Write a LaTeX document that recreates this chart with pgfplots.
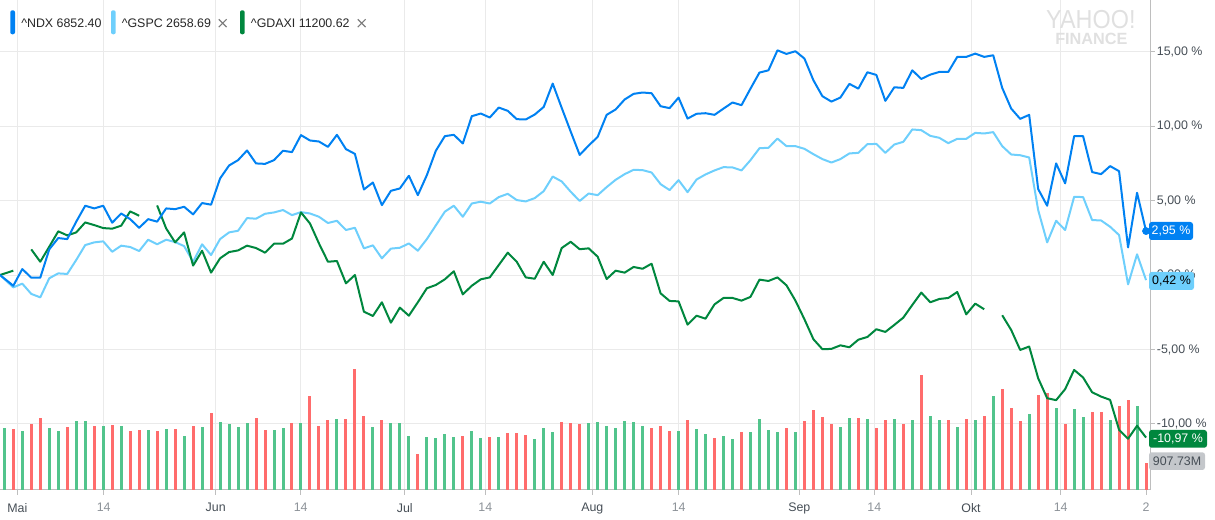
\documentclass[border=0pt]{standalone}
\usepackage{pgfplots}
\pgfplotsset{compat=1.18}
\usepackage{pgfplotstable}
\usepackage{fontspec}
\setmainfont{Liberation Sans}
\definecolor{ndx}{RGB}{0,129,242}
\definecolor{gspc}{RGB}{110,207,252}
\definecolor{dax}{RGB}{0,135,62}
\definecolor{volg}{RGB}{82,196,140}
\definecolor{volr}{RGB}{255,108,108}
\definecolor{gridc}{RGB}{234,234,234}
\definecolor{axisc}{RGB}{190,190,190}
\definecolor{labc}{RGB}{70,78,86}
\definecolor{numc}{RGB}{140,146,152}
\definecolor{txtc}{RGB}{38,38,38}
\definecolor{xc}{RGB}{125,125,125}
\definecolor{wm}{RGB}{224,224,224}
\definecolor{volbox}{RGB}{196,199,203}

\pgfplotstableread{
k ndx gspc dax
-0.48 0.00 0.00 0.00
1 -0.72 -0.83 0.29
2 0.40 -0.58 nan
3 -0.18 -1.27 1.72
4 -0.18 -1.50 0.89
5 1.72 -0.22 1.90
6 2.48 0.11 2.93
7 2.41 0.07 2.66
8 3.58 1.01 2.86
9 4.65 2.01 3.53
10 4.47 2.19 3.35
11 4.65 2.26 3.15
12 3.51 1.56 3.11
13 4.13 1.97 3.31
14 3.75 1.88 4.27
15 3.17 1.61 3.98
16 3.75 2.37 nan
17 3.58 2.06 4.67
18 4.47 2.37 3.13
19 4.42 2.21 2.19
20 4.58 1.94 2.86
21 4.07 0.89 0.63
22 4.83 2.06 1.63
23 4.72 1.34 0.16
24 6.48 2.41 1.12
25 7.35 2.86 1.54
26 7.71 2.97 1.65
27 8.36 3.82 1.97
28 7.49 3.78 1.81
29 7.46 4.11 1.50
30 7.71 4.20 2.10
31 8.34 4.36 2.10
32 8.25 4.02 2.45
33 9.39 4.22 4.20
34 9.03 4.13 3.46
35 8.96 3.91 2.12
36 8.60 3.49 0.89
37 9.41 3.64 0.94
38 8.45 3.02 -0.56
39 8.13 3.17 0.00
40 5.74 1.79 -2.46
41 6.21 1.99 -2.75
42 4.69 1.12 -1.83
43 5.65 1.77 -3.20
44 5.81 1.83 -2.19
45 6.66 2.12 -2.73
46 5.36 1.63 -1.83
47 6.70 2.41 -0.89
48 8.34 3.33 -0.67
49 9.32 4.25 -0.29
50 9.41 4.65 0.25
51 8.83 3.91 -1.30
52 10.66 4.80 -0.72
53 10.84 4.92 -0.29
54 10.57 4.80 -0.16
55 11.24 5.23 0.67
56 11.02 5.45 1.50
57 10.46 5.03 0.89
58 10.44 4.94 -0.16
59 10.77 5.16 -0.25
60 11.28 5.63 0.89
61 12.85 6.61 0.00
62 11.22 6.28 1.81
63 9.63 5.59 2.23
64 8.06 4.97 1.73
65 8.69 5.47 1.79
66 9.27 5.36 1.23
67 10.75 5.90 -0.27
68 11.11 6.39 0.29
69 11.78 6.77 0.16
70 12.16 7.06 0.54
71 12.25 7.04 0.42
72 12.20 6.88 0.76
73 11.33 6.10 -1.23
74 11.20 5.70 -1.74
75 11.91 6.37 -1.77
76 10.50 5.56 -3.33
77 10.82 6.41 -2.73
78 10.86 6.75 -2.93
79 10.75 7.02 -1.97
80 11.17 7.24 -1.54
81 11.58 7.22 -1.54
82 11.40 7.02 -1.72
83 12.51 7.71 -1.47
84 13.59 8.51 -0.31
85 13.74 8.54 -0.40
86 15.08 9.16 -0.16
87 14.84 8.65 -0.69
88 15.02 8.65 -1.72
89 14.53 8.47 -2.97
90 13.07 8.11 -4.31
91 12.00 7.78 -4.98
92 11.64 7.55 -4.96
93 11.91 7.78 -4.72
94 12.83 8.16 -4.85
95 12.51 8.20 -4.34
96 13.61 8.78 -4.16
97 13.43 8.80 -3.64
98 11.69 8.20 -3.82
99 12.60 8.76 -3.35
100 12.56 8.94 -2.86
101 13.74 9.77 -2.01
102 13.16 9.72 -1.18
103 13.45 9.34 -1.83
104 13.63 9.21 -1.61
105 13.63 8.85 -1.54
106 14.64 9.14 -1.14
107 14.64 9.14 -2.64
108 14.86 9.54 -1.92
109 14.64 9.50 -2.30
110 14.75 9.59 nan
111 12.56 8.65 -2.70
112 11.17 8.09 -3.69
113 10.48 8.04 -5.03
114 10.75 7.89 -4.80
115 5.77 4.36 -6.93
116 4.65 2.19 -8.27
117 7.49 3.64 -8.40
118 6.15 3.02 -7.66
119 9.32 5.25 -6.37
120 9.32 5.23 -6.88
121 6.91 3.69 -7.87
122 6.77 3.66 -8.16
123 7.31 3.24 -8.38
124 6.97 2.68 -10.39
125 1.85 -0.63 -10.99
126 5.52 1.39 -10.12
127 2.95 -0.34 -10.91
}\lines

\begin{document}
\begin{tikzpicture}[font=\fontsize{9.3}{11}\selectfont]
\path[use as bounding box] (0pt,0pt) rectangle (911.25pt,390pt);
\pgfplotsset{base/.style={scale only axis, width=862.5pt, height=367.5pt,
  xmin=-0.48, xmax=127.44, at={(0pt,22.5pt)}, anchor=south west}}
% frame, grid and ticks
\begin{axis}[base, ymin=-14.43, ymax=18.46,
  axis x line*=bottom, axis y line*=right,
  axis line style={axisc, line width=0.75pt},
  xtick={1.45,11.06,23.51,32.97,44.54,53.50,65.41,75.02,88.43,96.77,107.53,117.51},
  xticklabels={Mai,{\color{numc}14},Jun,{\color{numc}14},Jul,{\color{numc}14},Aug,{\color{numc}14},Sep,{\color{numc}14},Okt,{\color{numc}14}},
  extra x ticks={127},
  extra x tick labels={{\color{numc}2}},
  extra x tick style={grid=none},
  ytick={-10,-5,0,5,10,15},
  yticklabels={{-10,00 \%},{-5,00 \%},{0,00 \%},{5,00 \%},{10,00 \%},{15,00 \%}},
  tick style={axisc, line width=0.75pt},
  tick align=outside, major tick length=3.5pt,
  xmajorgrids, ymajorgrids,
  grid style={gridc, line width=0.75pt},
  xticklabel style={text=labc, inner sep=0pt, anchor=north, yshift=-6.3pt},
  yticklabel style={text=labc, inner sep=0pt, anchor=west, xshift=1.5pt},
]
\addplot[draw=none] coordinates {(0,0)};
\end{axis}
% volume
\begin{axis}[base, hide axis, ymin=0, ymax=490]
\addplot[ycomb, no marks, volg, line width=2.25pt] coordinates {(0,62)(2,59)(5,62)(6,59)(8,69)(9,69)(11,64)(13,64)(16,60)(18,61)(20,54)(22,63)(24,68)(25,66)(26,63)(27,67)(30,60)(31,62)(33,67)(37,71)(41,63)(43,67)(44,67)(45,54)(47,53)(48,52)(49,56)(50,53)(52,59)(53,52)(55,53)(59,51)(60,62)(61,58)(65,67)(66,68)(67,64)(68,62)(69,69)(70,68)(71,64)(75,59)(77,61)(78,56)(80,54)(81,51)(83,58)(84,71)(85,60)(86,58)(88,58)(93,63)(94,72)(96,71)(99,71)(101,70)(103,74)(104,70)(106,63)(108,70)(110,94)(114,76)(117,82)(119,81)(120,73)(123,70)(126,84)};
\addplot[ycomb, no marks, volr, line width=2.25pt] coordinates {(1,61)(3,66)(4,72)(7,63)(10,64)(12,65)(14,59)(15,60)(17,59)(19,61)(21,64)(23,77)(28,72)(29,60)(32,67)(34,94)(35,64)(36,70)(38,71)(39,121)(40,74)(42,70)(46,36)(51,54)(54,53)(56,57)(57,57)(58,55)(62,68)(63,67)(64,66)(72,62)(73,64)(74,59)(76,70)(79,52)(82,58)(87,62)(89,69)(90,80)(91,73)(92,66)(95,72)(97,62)(98,70)(100,66)(102,115)(105,70)(107,71)(109,74)(111,101)(112,82)(113,69)(115,95)(116,97)(118,66)(121,78)(122,78)(124,84)(125,90)(127,27)};
\end{axis}
% lines
\begin{axis}[base, hide axis, ymin=-14.43, ymax=18.46, unbounded coords=jump]
\addplot[gspc, line width=1.5pt, no marks, line join=round] table[x=k,y=gspc]{\lines};
\addplot[dax, line width=1.5pt, no marks, line join=round] table[x=k,y=dax]{\lines};
\addplot[ndx, line width=1.5pt, no marks, line join=round] table[x=k,y=ndx]{\lines};
\addplot[only marks, mark=*, mark size=2.7pt, ndx] coordinates {(127,2.95)};
\end{axis}
% annotations in pixel units (y measured from bottom)
\begin{scope}[x=0.75pt,y=0.75pt]
% watermark
\node[anchor=base west, inner sep=0pt, text=wm, xscale=0.9] at (1046,491.7) {\fontsize{19.5}{20}\selectfont YAHOO!};
\node[anchor=base west, inner sep=0pt, text=wm] at (1055,475) {\fontsize{12.2}{13}\selectfont\bfseries FINANCE};
% legend
\fill[ndx, rounded corners=1.5] (10.3,485.7) rectangle (15,509.7);
\node[anchor=base west, inner sep=0pt, text=txtc] at (21,492.7) {\textasciicircum NDX 6852.40};
\fill[gspc, rounded corners=1.5] (111,485.7) rectangle (115.7,509.7);
\node[anchor=base west, inner sep=0pt, text=txtc] at (121.5,492.7) {\textasciicircum GSPC 2658.69};
\draw[xc, line width=0.9pt] (218.8,500.7) -- (226.6,492.9) (218.8,492.9) -- (226.6,500.7);
\fill[dax, rounded corners=1.5] (240,485.7) rectangle (244.7,509.7);
\node[anchor=base west, inner sep=0pt, text=txtc] at (250.7,492.7) {\textasciicircum GDAXI 11200.62};
\draw[xc, line width=0.9pt] (357.8,500.7) -- (365.6,492.9) (357.8,492.9) -- (365.6,500.7);
% value boxes
\fill[ndx, rounded corners=2] (1149,280) rectangle (1193,298);
\node[text=white, inner sep=0pt] at (1171,289) {2,95 \%};
\fill[gspc, rounded corners=2] (1149,230) rectangle (1194,248);
\node[text=black, inner sep=0pt] at (1171.5,239) {0,42 \%};
\fill[dax, rounded corners=2] (1149,72.3) rectangle (1207,90);
\node[text=white, inner sep=0pt] at (1178,81.2) {-10,97 \%};
\fill[volbox, rounded corners=2] (1149,50) rectangle (1205,67.7);
\node[text=labc, inner sep=0pt] at (1177,58.9) {907.73M};
\end{scope}
\end{tikzpicture}
\end{document}
